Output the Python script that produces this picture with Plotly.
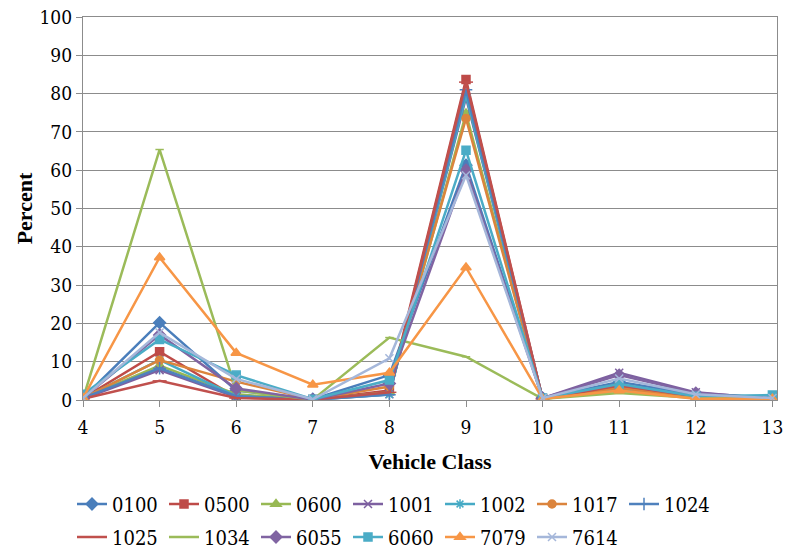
import plotly.graph_objects as go

vehicle_class = [4, 5, 6, 7, 8, 9, 10, 11, 12, 13]

s0100 = [0.5, 20.2, 2.5, 0.2, 6.5, 61.3, 0.5, 4.7, 1.5, 0.5]
s0500 = [0.5, 12.6, 0.7, 0.1, 2.5, 83.7, 0.3, 3.4, 1.0, 0.3]
s0600 = [0.5, 9.0, 1.5, 0.1, 2.0, 74.8, 0.3, 2.5, 0.8, 0.3]
s1001 = [0.3, 7.8, 0.8, 0.1, 1.5, 79.0, 0.5, 7.1, 2.0, 0.3]
s1002 = [0.5, 10.5, 1.0, 0.1, 1.4, 79.5, 0.3, 3.0, 0.5, 0.3]
s1017 = [0.5, 10.4, 4.8, 0.2, 3.5, 73.5, 0.3, 3.2, 0.5, 0.2]
s1024 = [0.5, 8.3, 1.0, 0.1, 1.4, 81.0, 0.3, 4.0, 1.0, 0.3]
s1025 = [0.3, 5.0, 0.5, 0.1, 2.0, 83.0, 0.3, 3.8, 1.0, 0.3]
s1034 = [0.3, 65.4, 2.5, 0.1, 16.3, 11.3, 0.3, 1.8, 0.5, 0.3]
s6055 = [0.5, 17.0, 3.0, 0.1, 4.3, 60.0, 0.5, 6.5, 1.8, 0.5]
s6060 = [1.5, 15.8, 6.5, 0.2, 5.2, 65.2, 0.5, 4.2, 1.0, 1.3]
s7079 = [0.5, 37.2, 12.3, 4.0, 7.1, 34.6, 0.3, 2.5, 0.3, 0.3]
s7614 = [0.5, 17.6, 5.5, 0.2, 10.9, 58.7, 0.5, 5.6, 1.5, 0.5]

y_ticks = [0, 10, 20, 30, 40, 50, 60, 70, 80, 90, 100]

series = [
    ("0100", s0100, "#4A7EBB", "diamond", 9, "legend"),
    ("0500", s0500, "#BE4B48", "square", 8, "legend"),
    ("0600", s0600, "#98B954", "triangle-up", 9, "legend"),
    ("1001", s1001, "#7D60A0", "x-thin-open", 8, "legend"),
    ("1002", s1002, "#46AAC5", "asterisk-open", 8, "legend"),
    ("1017", s1017, "#DB843D", "circle", 8, "legend"),
    ("1024", s1024, "#4F81BD", "cross-thin-open", 9, "legend"),
    ("1025", s1025, "#C0504D", "line-ew-open", 10, "legend2"),
    ("1034", s1034, "#9BBB59", "line-ew-open", 6, "legend2"),
    ("6055", s6055, "#8064A2", "diamond", 9, "legend2"),
    ("6060", s6060, "#4BACC6", "square", 8, "legend2"),
    ("7079", s7079, "#F79646", "triangle-up", 9, "legend2"),
    ("7614", s7614, "#A5B7DA", "x-thin-open", 8, "legend2"),
]

fig = go.Figure()
for name, vals, color, sym, size, lg in series:
    fig.add_trace(go.Scatter(
        x=vehicle_class, y=vals, name=name, mode="lines+markers",
        line=dict(color=color, width=2.5),
        marker=dict(symbol=sym, size=size, color=color,
                    line=dict(color=color, width=1.5)),
        legend=lg,
    ))

title_font = "Liberation Serif"
text_font = "DejaVu Serif Condensed"
grid_color = "#8C8C8C"

legend_common = dict(
    orientation="h", xref="container", yref="container",
    xanchor="left", yanchor="middle",
    entrywidth=47, entrywidthmode="pixels",
    bgcolor="rgba(0,0,0,0)", itemwidth=30,
    font=dict(family=text_font, size=20, color="#000000"),
)

fig.update_layout(
    width=786, height=552,
    margin=dict(l=83, r=9, t=17, b=152, autoexpand=False),
    paper_bgcolor="white", plot_bgcolor="white",
    font=dict(family=text_font, size=19, color="#000000"),
    showlegend=True,
    legend=dict(**legend_common, x=72 / 786, y=1 - 504 / 552),
    legend2=dict(**legend_common, x=72 / 786, y=1 - 537 / 552),
    xaxis=dict(
        range=[4, 13.06], tickmode="array", tickvals=vehicle_class,
        ticktext=[str(v) for v in vehicle_class],
        showgrid=False, zeroline=False, automargin=False,
        showline=True, linecolor=grid_color, linewidth=1.3, mirror=True,
        ticks="outside", ticklen=6, tickcolor=grid_color, tickwidth=1.3,
        ticklabelstandoff=4,
        tickfont=dict(family=text_font, size=19),
        title=dict(text="<b>Vehicle Class</b>", standoff=16,
                   font=dict(family=title_font, size=22)),
    ),
    yaxis=dict(
        range=[0, 100], tickmode="array", tickvals=y_ticks,
        showgrid=True, gridcolor=grid_color, gridwidth=1.3,
        zeroline=False, automargin=False,
        showline=True, linecolor=grid_color, linewidth=1.3, mirror=True,
        ticks="outside", ticklen=6, tickcolor=grid_color, tickwidth=1.3,
        tickfont=dict(family=text_font, size=19),
        title=dict(text="<b>Percent</b>", standoff=0,
                   font=dict(family=title_font, size=22)),
    ),
)

fig.write_html("out.html", config={"displayModeBar": False},
               post_script="document.body.style.margin='0px';")
